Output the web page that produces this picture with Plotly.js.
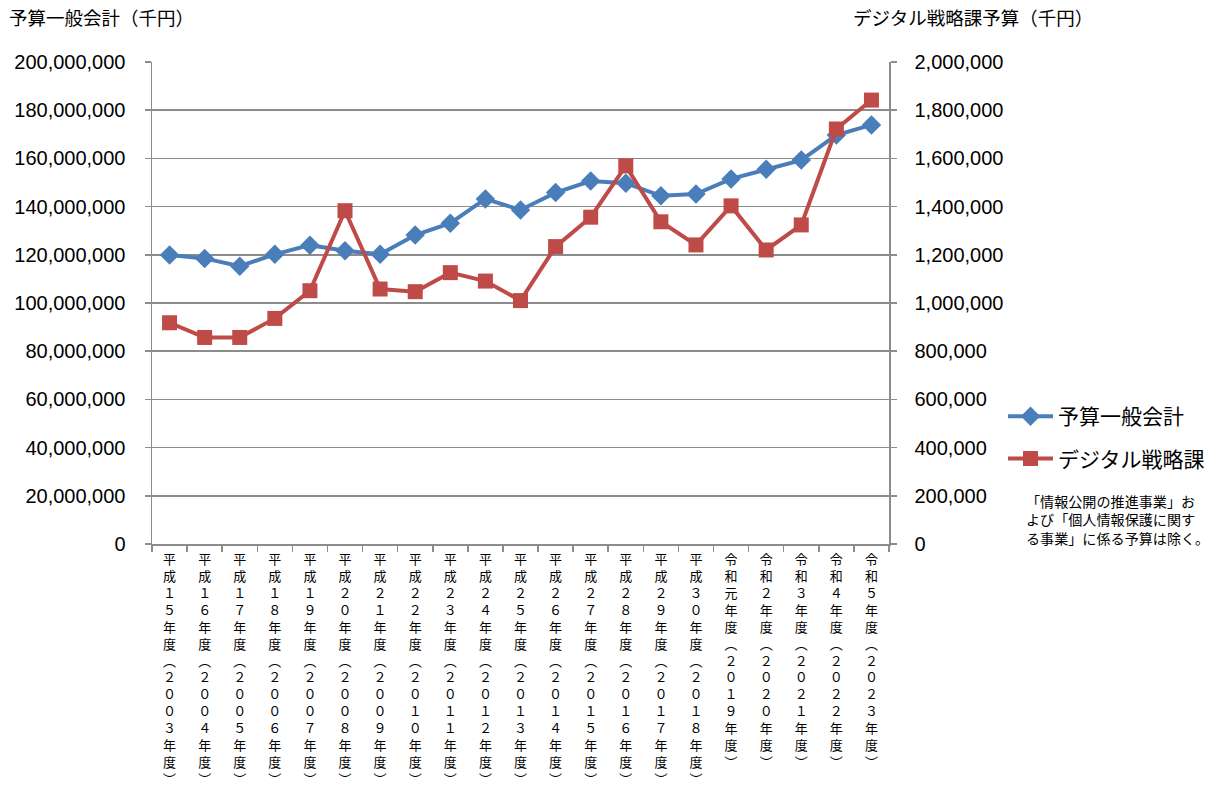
<!DOCTYPE html>
<html>
<head>
<meta charset="utf-8">
<script src="https://cdn.plot.ly/plotly-3.0.1.min.js"></script>
<style>html,body{margin:0;padding:0;background:#fff;}#chart{width:1209px;height:787px;}</style>
</head>
<body>
<div id="chart"></div>
<script>
// ---- data ----
const categories = [
  "平成１５年度（２００３年度）","平成１６年度（２００４年度）","平成１７年度（２００５年度）",
  "平成１８年度（２００６年度）","平成１９年度（２００７年度）","平成２０年度（２００８年度）",
  "平成２１年度（２００９年度）","平成２２年度（２０１０年度）","平成２３年度（２０１１年度）",
  "平成２４年度（２０１２年度）","平成２５年度（２０１３年度）","平成２６年度（２０１４年度）",
  "平成２７年度（２０１５年度）","平成２８年度（２０１６年度）","平成２９年度（２０１７年度）",
  "平成３０年度（２０１８年度）","令和元年度（２０１９年度）","令和２年度（２０２０年度）",
  "令和３年度（２０２１年度）","令和４年度（２０２２年度）","令和５年度（２０２３年度）"
];
const generalBudget = [
  119900000,118500000,115300000,120200000,124000000,121700000,120200000,128200000,133100000,
  143200000,138600000,145800000,150600000,149700000,144500000,145200000,151500000,155500000,
  159300000,169700000,173900000
];
const digitalBudget = [
  918000,857000,857000,936000,1051000,1383000,1058000,1047000,1126000,1091000,1010000,
  1234000,1356000,1569000,1337000,1241000,1403000,1220000,1324000,1722000,1842000
];
const seriesNames = ["予算一般会計","デジタル戦略課"];
const leftAxisTitle = "予算一般会計（千円）";
const rightAxisTitle = "デジタル戦略課予算（千円）";
const noteText = "「情報公開の推進事業」お<br>よび「個人情報保護に関す<br>る事業」に係る予算は除く。";

// ---- layout constants ----
const W = 1209, H = 787;
const mL = 152, mR = 320, mT = 62, mB = 243;
const JP = '"Noto Sans CJK JP", "Noto Sans", sans-serif';
const NUM = '"Liberation Sans", Arial, sans-serif';
const BLUE = '#4A7EBB', RED = '#BE4B48', GRID = '#8c8c8c';

const vmap = {"（":"︵","）":"︶"};
const verticalText = categories.map(lab => Array.from(lab).map(ch => vmap[ch] || ch).join('<br>'));

const traces = [
  {x: categories, y: generalBudget, name: seriesNames[0], type: 'scatter', mode: 'lines+markers',
   yaxis: 'y', line: {color: BLUE, width: 4}, marker: {symbol: 'diamond', size: 15, color: BLUE},
   legendgroup: 'a'},
  {x: categories, y: digitalBudget, name: seriesNames[1], type: 'scatter', mode: 'lines+markers',
   yaxis: 'y2', line: {color: RED, width: 4}, marker: {symbol: 'square', size: 15, color: RED},
   legendgroup: 'b'}
];

const annotations = [];
// axis titles
annotations.push({xref: 'paper', yref: 'paper', x: 0, y: 1, xanchor: 'left', yanchor: 'middle',
  xshift: 7 - mL, yshift: mT - 17, text: leftAxisTitle, showarrow: false,
  font: {family: JP, size: 18.5, color: '#000'}});
annotations.push({xref: 'paper', yref: 'paper', x: 1, y: 1, xanchor: 'right', yanchor: 'middle',
  xshift: 1095 - (W - mR), yshift: mT - 17, text: rightAxisTitle, showarrow: false,
  font: {family: JP, size: 18.5, color: '#000'}});
// note
annotations.push({xref: 'paper', yref: 'paper', x: 1, y: 0, xanchor: 'left', yanchor: 'top',
  xshift: 1024 - (W - mR), yshift: (H - mB) - 489, text: noteText, showarrow: false, align: 'left',
  font: {family: JP, size: 14.1, color: '#000'}});

const layout = {
  width: W, height: H,
  margin: {l: mL, r: mR, t: mT, b: mB, pad: 0, autoexpand: false},
  paper_bgcolor: '#fff', plot_bgcolor: '#fff',
  showlegend: true,
  legend: {x: 1, xref: 'paper', xanchor: 'left', y: 0.307, yanchor: 'top',
    font: {family: JP, size: 21, color: '#000'}, itemwidth: 45, tracegroupgap: 12,
    traceorder: 'grouped', bgcolor: 'rgba(0,0,0,0)'},
  xaxis: {type: 'category', range: [-0.5, categories.length - 0.5],
    tickmode: 'array', tickvals: categories, ticktext: verticalText,
    tickfont: {family: JP, size: 13, color: '#000'}, tickangle: 0, ticklabelstandoff: 3,
    ticks: 'outside', ticklen: 6, tickcolor: GRID, tickwidth: 1.5, tickson: 'boundaries',
    showgrid: false, showline: true, linecolor: GRID, linewidth: 1.5, zeroline: false,
    automargin: false, fixedrange: true},
  yaxis: {range: [0, 200000000], dtick: 20000000, tickformat: ',d', showgrid: true,
    gridcolor: GRID, gridwidth: 1.5, showline: true, linecolor: GRID, linewidth: 1.5,
    ticks: 'outside', ticklen: 6, tickcolor: GRID, tickwidth: 1.5, ticklabelstandoff: 15,
    zeroline: false, automargin: false, tickfont: {family: NUM, size: 20, color: '#000'}},
  yaxis2: {range: [0, 2000000], dtick: 200000, tickformat: ',d', overlaying: 'y', side: 'right',
    showgrid: false, showline: true, linecolor: GRID, linewidth: 1.5,
    ticks: 'outside', ticklen: 6, tickcolor: GRID, tickwidth: 1.5, ticklabelstandoff: 14,
    zeroline: false, automargin: false, tickfont: {family: NUM, size: 20, color: '#000'}},
  annotations: annotations
};
layout.legend.x = 1 + (1003 - (W - mR)) / (W - mL - mR);

Plotly.newPlot('chart', traces, layout, {displayModeBar: false, staticPlot: true});
</script>
</body>
</html>
